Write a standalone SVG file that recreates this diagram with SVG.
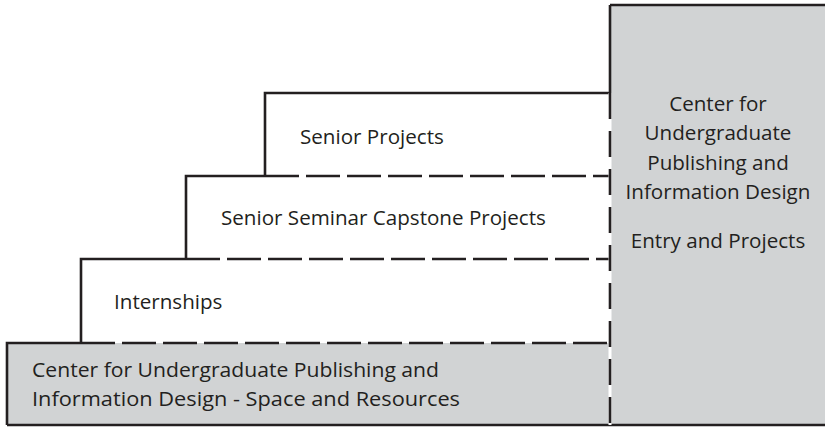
<svg xmlns="http://www.w3.org/2000/svg" width="825" height="428" viewBox="0 0 825 428">
<style>
.t{font-family:"Open Sans","Liberation Sans",sans-serif;font-size:20.6px;fill:#231f20}
.ln{stroke:#231f20;stroke-width:2.6;fill:none}
.ds{stroke:#231f20;stroke-width:2.6;fill:none;stroke-dasharray:34 7}
.dv{stroke:#231f20;stroke-width:2.6;fill:none;stroke-dasharray:26 12}
.gray{fill:#d1d3d4}
</style>
<rect width="825" height="428" fill="#ffffff"/>
<g id="center-box">
<rect class="gray" x="610" y="5" width="220" height="420"/>
<text class="t" text-anchor="middle" x="718" y="111">Center for</text>
<text class="t" text-anchor="middle" x="718" y="140">Undergraduate</text>
<text class="t" text-anchor="middle" x="718" y="170">Publishing and</text>
<text class="t" text-anchor="middle" x="718" y="199">Information Design</text>
<text class="t" text-anchor="middle" x="718" y="248">Entry and Projects</text>
</g>
<g id="space-resources">
<rect class="gray" x="7" y="343" width="603" height="82"/>
<text class="t" x="32" y="377" textLength="407" lengthAdjust="spacingAndGlyphs">Center for Undergraduate Publishing and</text>
<text class="t" x="32" y="406" textLength="428" lengthAdjust="spacingAndGlyphs">Information Design - Space and Resources</text>
</g>
<g id="internships">
<text class="t" x="114" y="309">Internships</text>
</g>
<g id="senior-seminar">
<text class="t" x="221" y="225">Senior Seminar Capstone Projects</text>
</g>
<g id="senior-projects">
<text class="t" x="300" y="144">Senior Projects</text>
</g>
<g id="connectors">
<path class="ln" d="M610 5 H825 M610 5 V93 M7 425 H825 M7 425 V343 H81 M81 343 V259 H186 M186 259 V176 H265 M265 176 V93 H610"/>
<path class="ds" d="M81 343 H610 M186 259 H610 M265 176 H610"/>
<line x1="610" y1="93" x2="610" y2="425" stroke="#ffffff" stroke-width="3"/>
<path class="dv" d="M610 93 V425"/>
</g>
</svg>
